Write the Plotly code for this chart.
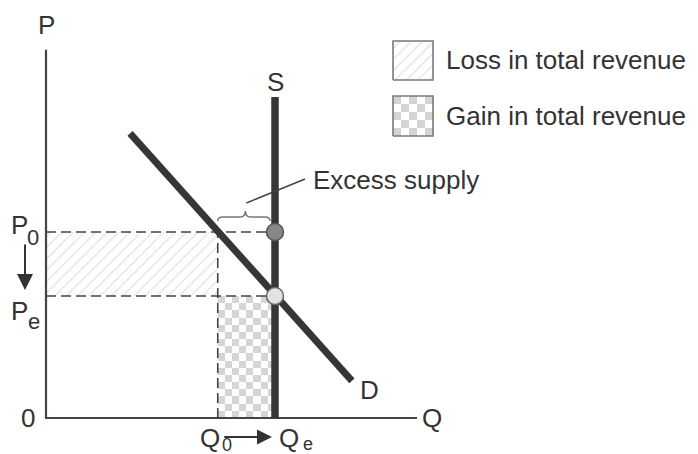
import numpy as np
import plotly.graph_objects as go

# ---------------- data (economic units) ----------------
Q0, QE = 7.5, 10.0            # quantities
P0, PE = 10.0, 6.56           # prices
demand_q = [3.67, 13.36]
demand_p = [15.3, 2.0]
supply_q = [10.0, 10.0]
supply_p = [0.0, 17.26]
q_axis_max = 16.2
p_axis_max = 19.8
legend_labels = ["Loss in total revenue", "Gain in total revenue"]
axis_labels = ["P", "Q", "0"]
curve_labels = ["S", "D"]
note_label = "Excess supply"

# ---------------- geometry helpers ----------------
W, H = 698, 454
OX, OY = 46, 418          # pixel position of the origin
PXQ, PXP = 22.9, 18.6     # pixels per unit


def qx(px):
    return (px - OX) / PXQ


def py(px):
    return (OY - px) / PXP


def dq(px):
    return px / PXQ


def dp(px):
    return px / PXP


FONT = dict(family="Arial, Liberation Sans, sans-serif", size=26, color="#333333")
SUBFONT = dict(family="Arial, Liberation Sans, sans-serif", size=22, color="#333333")
SUBFONT_S = dict(family="Arial, Liberation Sans, sans-serif", size=18, color="#333333")
DARK = "#363636"
AXC = "#444444"

fig = go.Figure()

# Loss area (hatched)
fig.add_trace(go.Scatter(
    x=[0, Q0, Q0, 0, 0], y=[PE, PE, P0, P0, PE], mode="lines", fill="toself",
    fillcolor="white", line=dict(width=0, color="rgba(0,0,0,0)"),
    fillpattern=dict(shape="/", fgcolor="#c6c6c6", bgcolor="white", size=8, solidity=0.16),
    hoverinfo="skip"))

# Gain area (checkered)
nx, ny = 8, 17
z = np.indices((ny, nx)).sum(axis=0) % 2
fig.add_trace(go.Heatmap(
    x=np.linspace(Q0, QE, nx + 1), y=np.linspace(0, PE, ny + 1), z=z,
    colorscale=[[0, "#d5d5d5"], [1, "#ffffff"]], showscale=False, hoverinfo="skip"))

# Dashed guide lines
dash = "10px,5px"
fig.add_trace(go.Scatter(x=[0, QE, None, 0, QE, None, Q0, Q0],
                         y=[P0, P0, None, PE, PE, None, 0, P0],
                         mode="lines", line=dict(color=AXC, width=1.6, dash=dash),
                         hoverinfo="skip"))

# Axes
fig.add_trace(go.Scatter(x=[0, 0, q_axis_max], y=[p_axis_max, 0, 0], mode="lines",
                         line=dict(color=AXC, width=2.2), hoverinfo="skip"))

# Demand and supply
fig.add_trace(go.Scatter(x=demand_q, y=demand_p, mode="lines",
                         line=dict(color=DARK, width=7), hoverinfo="skip"))
fig.add_trace(go.Scatter(x=supply_q, y=supply_p, mode="lines",
                         line=dict(color=DARK, width=7.5), hoverinfo="skip"))

# Points
fig.add_trace(go.Scatter(x=[QE], y=[P0], mode="markers",
                         marker=dict(size=17, color="#878787", line=dict(color="#555555", width=1.5)),
                         hoverinfo="skip"))
fig.add_trace(go.Scatter(x=[QE], y=[PE], mode="markers",
                         marker=dict(size=17, color="#e2e2e2", line=dict(color="#666666", width=1.5)),
                         hoverinfo="skip"))

# Legend swatches
lx0, lx1 = qx(393), qx(433)
ly0a, ly1a = py(80), py(41)
fig.add_trace(go.Scatter(
    x=[lx0, lx1, lx1, lx0, lx0], y=[ly0a, ly0a, ly1a, ly1a, ly0a], mode="lines",
    fill="toself", fillcolor="white", line=dict(width=1.6, color="#7a7a7a"),
    fillpattern=dict(shape="/", fgcolor="#c6c6c6", bgcolor="white", size=8, solidity=0.16),
    hoverinfo="skip"))
ly0b, ly1b = py(136), py(96)
lz = np.indices((5, 5)).sum(axis=0) % 2
fig.add_trace(go.Heatmap(
    x=np.linspace(lx0, lx1, 6), y=np.linspace(ly0b, ly1b, 6), z=lz,
    colorscale=[[0, "#d5d5d5"], [1, "#ffffff"]], showscale=False, hoverinfo="skip"))
fig.add_trace(go.Scatter(
    x=[lx0, lx1, lx1, lx0, lx0], y=[ly0b, ly0b, ly1b, ly1b, ly0b], mode="lines",
    line=dict(width=1.6, color="#7a7a7a"), hoverinfo="skip"))

# Brace over excess supply
mid = (Q0 + QE) / 2 - dq(1)
b_end = P0 + dp(11)
b_flat = P0 + dp(15)
b_tip = P0 + dp(21)
r = dq(5)
path = (f"M {Q0},{b_end} Q {Q0},{b_flat} {Q0 + r},{b_flat} "
        f"L {mid - r},{b_flat} Q {mid},{b_flat} {mid},{b_tip} "
        f"Q {mid},{b_flat} {mid + r},{b_flat} "
        f"L {QE - dq(5) - r},{b_flat} Q {QE - dq(5)},{b_flat} {QE - dq(5)},{b_end}")
shapes = [
    dict(type="path", path=path, xref="x", yref="y", line=dict(color="#777777", width=1.5)),
    dict(type="line", xref="x", yref="y", x0=mid + dq(1), y0=b_tip + dp(8),
         x1=qx(305), y1=py(179), line=dict(color=AXC, width=1.5)),
]

annotations = [
    dict(x=0, y=py(25), text=axis_labels[0]),
    dict(x=qx(432), y=0, text=axis_labels[1]),
    dict(x=qx(28), y=0, text=axis_labels[2]),
    dict(x=QE, y=py(82), text=curve_labels[0]),
    dict(x=qx(369), y=py(390), text=curve_labels[1]),
    # P0 / Pe / Q0 / Qe labels (main letter + subscript)
    dict(x=qx(19.5), y=py(224.5), text="P"),
    dict(x=qx(33), y=py(237.5), text="0", font=SUBFONT),
    dict(x=qx(19.5), y=py(311), text="P"),
    dict(x=qx(33.5), y=py(321), text="e", font=SUBFONT),
    dict(x=qx(210), y=py(438), text="Q"),
    dict(x=qx(227), y=py(445), text="0", font=SUBFONT_S),
    dict(x=qx(289), y=py(438), text="Q"),
    dict(x=qx(308), y=py(444), text="e", font=SUBFONT_S),
    dict(x=qx(311), y=py(180), text=note_label, xanchor="left"),
    dict(x=qx(444), y=py(60), text=legend_labels[0], xanchor="left"),
    dict(x=qx(444), y=py(116), text=legend_labels[1], xanchor="left"),
]
for a in annotations:
    a.setdefault("xanchor", "center")
    a.setdefault("font", FONT)
    a.update(xref="x", yref="y", yanchor="middle", showarrow=False)

# Arrows
annotations.append(dict(x=qx(25), y=PE + dp(6), ax=qx(25), ay=P0 - dp(11),
                        xref="x", yref="y", axref="x", ayref="y", text="", showarrow=True,
                        arrowhead=2, arrowsize=1.6, arrowwidth=2, arrowcolor="#333333"))
annotations.append(dict(x=QE - dq(3), y=py(437), ax=Q0 + dq(5), ay=py(437),
                        xref="x", yref="y", axref="x", ayref="y", text="", showarrow=True,
                        arrowhead=2, arrowsize=1.5, arrowwidth=2, arrowcolor="#333333"))

fig.update_layout(
    width=W, height=H, margin=dict(l=0, r=0, t=0, b=0),
    paper_bgcolor="white", plot_bgcolor="white", showlegend=False,
    xaxis=dict(range=[qx(0), qx(W)], visible=False, fixedrange=True),
    yaxis=dict(range=[py(H), py(0)], visible=False, fixedrange=True),
    shapes=shapes, annotations=annotations,
)

fig.write_html("out.html", config={"displayModeBar": False},
               post_script="document.body.style.margin='0';")
